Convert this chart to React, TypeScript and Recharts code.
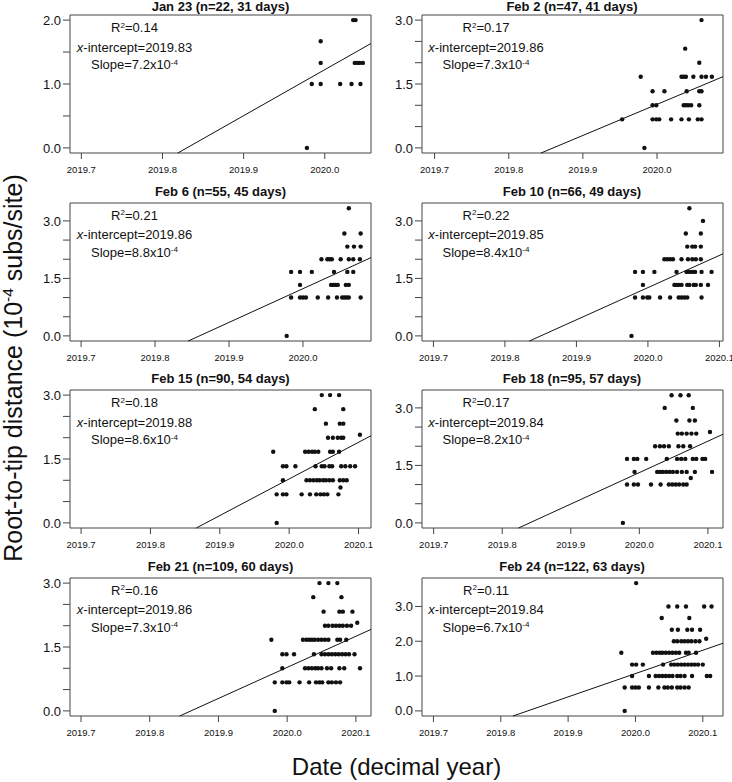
import React from "react";
import {
  ScatterChart,
  Scatter,
  XAxis,
  YAxis,
  ReferenceLine,
  ReferenceArea,
} from "recharts";

// ---- data: each row is [root-to-tip distance (1e-4 subs/site), sampling dates (decimal year)]
type Row = [number, number[]];

const jan23: Row[] = [
  [0, [2019.978]],
  [1.0, [2019.984, 2019.995, 2020.019, 2020.033, 2020.044]],
  [1.33, [2019.995, 2020.037, 2020.04, 2020.043, 2020.047]],
  [1.67, [2019.995]],
  [2.0, [2020.035, 2020.038]],
];

const feb2: Row[] = [
  [0, [2019.983]],
  [0.67, [2019.953, 2019.994, 2019.999, 2020.003, 2020.019, 2020.033, 2020.043, 2020.055, 2020.06]],
  [1.0, [2019.994, 2019.999, 2020.036, 2020.039, 2020.042, 2020.046, 2020.057]],
  [1.33, [2019.994, 2020.01, 2020.04, 2020.057, 2020.06]],
  [1.67, [2019.978, 2020.033, 2020.036, 2020.039, 2020.049, 2020.06, 2020.066, 2020.074]],
  [2.0, [2020.057]],
  [2.33, [2020.038]],
  [3.0, [2020.06]],
];

const feb6: Row[] = [
  [0, [2019.978]],
  [1.0, [2019.984, 2019.996, 2020.0, 2020.004, 2020.02, 2020.034, 2020.046, 2020.053, 2020.056, 2020.059, 2020.062, 2020.078]],
  [1.33, [2019.996, 2020.038, 2020.041, 2020.044, 2020.047, 2020.058, 2020.062]],
  [1.67, [2019.984, 2019.996, 2020.012, 2020.042, 2020.06, 2020.068]],
  [2.0, [2020.025, 2020.033, 2020.036, 2020.039, 2020.051, 2020.062, 2020.068, 2020.077]],
  [2.33, [2020.06, 2020.069, 2020.078]],
  [2.67, [2020.056, 2020.078]],
  [3.33, [2020.062]],
];

const feb10: Row[] = [
  [0, [2019.977]],
  [1.0, [2019.982, 2019.993, 2019.999, 2020.002, 2020.017, 2020.031, 2020.043, 2020.047, 2020.051, 2020.055, 2020.075]],
  [1.33, [2019.993, 2020.037, 2020.04, 2020.043, 2020.047, 2020.055, 2020.058, 2020.064, 2020.067, 2020.074, 2020.084]],
  [1.67, [2019.982, 2019.993, 2020.009, 2020.04, 2020.054, 2020.058, 2020.062, 2020.066, 2020.075, 2020.089]],
  [2.0, [2020.023, 2020.027, 2020.031, 2020.035, 2020.047, 2020.056, 2020.062, 2020.067, 2020.074]],
  [2.33, [2020.055, 2020.062, 2020.066, 2020.074]],
  [2.67, [2020.053, 2020.074]],
  [3.0, [2020.077]],
  [3.33, [2020.058]],
];

const feb15: Row[] = [
  [0, [2019.982]],
  [0.67, [2019.982, 2019.991, 2019.996, 2020.018, 2020.03, 2020.039, 2020.045, 2020.05, 2020.055, 2020.071]],
  [0.83, [2020.074]],
  [1.0, [2019.991, 2020.025, 2020.03, 2020.035, 2020.04, 2020.044, 2020.049, 2020.053, 2020.058, 2020.063, 2020.073, 2020.078, 2020.083]],
  [1.33, [2019.991, 2019.996, 2020.009, 2020.038, 2020.047, 2020.051, 2020.058, 2020.062, 2020.075, 2020.081, 2020.088, 2020.095]],
  [1.67, [2019.977, 2020.023, 2020.028, 2020.033, 2020.037, 2020.042, 2020.059, 2020.063, 2020.072]],
  [2.0, [2020.056, 2020.063, 2020.07, 2020.075, 2020.078]],
  [2.07, [2020.102]],
  [2.33, [2020.053, 2020.073, 2020.078]],
  [2.67, [2020.037, 2020.078]],
  [3.0, [2020.047, 2020.059, 2020.072]],
];

const feb18: Row[] = [
  [0, [2019.976]],
  [1.0, [2019.982, 2019.992, 2019.998, 2020.017, 2020.031, 2020.043, 2020.048, 2020.053, 2020.058, 2020.064, 2020.069]],
  [1.17, [2020.075]],
  [1.33, [2019.993, 2020.026, 2020.03, 2020.034, 2020.039, 2020.044, 2020.049, 2020.055, 2020.062, 2020.069, 2020.081, 2020.106]],
  [1.67, [2019.982, 2019.992, 2019.997, 2020.01, 2020.04, 2020.055, 2020.061, 2020.067, 2020.078, 2020.083, 2020.092, 2020.096]],
  [2.0, [2020.023, 2020.03, 2020.036, 2020.043, 2020.057, 2020.064, 2020.074]],
  [2.33, [2020.056, 2020.062, 2020.069, 2020.076, 2020.083]],
  [2.37, [2020.103]],
  [2.67, [2020.054, 2020.073, 2020.081]],
  [3.0, [2020.037, 2020.078]],
  [3.33, [2020.047, 2020.06, 2020.072]],
];

const feb21: Row[] = [
  [0, [2019.982]],
  [0.67, [2019.982, 2019.993, 2019.999, 2020.003, 2020.018, 2020.032, 2020.042, 2020.047, 2020.051, 2020.06, 2020.065, 2020.071, 2020.077]],
  [1.0, [2019.993, 2020.026, 2020.031, 2020.036, 2020.041, 2020.045, 2020.05, 2020.058, 2020.064, 2020.076, 2020.083, 2020.106]],
  [1.33, [2019.993, 2019.999, 2020.01, 2020.039, 2020.05, 2020.055, 2020.06, 2020.065, 2020.07, 2020.075, 2020.08, 2020.085, 2020.09, 2020.098]],
  [1.67, [2019.977, 2020.023, 2020.028, 2020.032, 2020.036, 2020.04, 2020.045, 2020.05, 2020.055, 2020.06, 2020.073, 2020.077, 2020.086]],
  [2.0, [2020.055, 2020.06, 2020.066, 2020.071, 2020.076, 2020.081, 2020.087, 2020.093]],
  [2.07, [2020.102]],
  [2.33, [2020.053, 2020.076, 2020.081, 2020.095]],
  [2.67, [2020.038, 2020.079]],
  [3.0, [2020.047, 2020.06, 2020.073]],
];

const feb24: Row[] = [
  [0, [2019.984]],
  [0.67, [2019.984, 2019.995, 2020.0, 2020.005, 2020.02, 2020.034, 2020.043, 2020.048, 2020.054, 2020.062, 2020.067, 2020.073, 2020.079]],
  [1.0, [2019.995, 2020.02, 2020.03, 2020.035, 2020.04, 2020.045, 2020.05, 2020.055, 2020.062, 2020.067, 2020.073, 2020.084, 2020.106, 2020.111]],
  [1.33, [2019.995, 2020.001, 2020.011, 2020.041, 2020.053, 2020.058, 2020.063, 2020.068, 2020.073, 2020.078, 2020.083, 2020.088, 2020.093, 2020.1]],
  [1.67, [2019.979, 2020.026, 2020.031, 2020.036, 2020.04, 2020.045, 2020.05, 2020.055, 2020.06, 2020.065, 2020.075, 2020.079, 2020.09]],
  [2.0, [2020.057, 2020.062, 2020.068, 2020.073, 2020.078, 2020.083, 2020.089, 2020.095]],
  [2.07, [2020.105]],
  [2.33, [2020.054, 2020.063, 2020.077, 2020.084, 2020.096]],
  [2.67, [2020.039, 2020.08]],
  [3.0, [2020.049, 2020.062, 2020.075, 2020.102, 2020.113]],
  [3.67, [2020.001]],
];

const panelRows = [jan23, feb2, feb6, feb10, feb15, feb18, feb21, feb24];

const titles = [
  "Jan 23 (n=22, 31 days)",
  "Feb 2 (n=47, 41 days)",
  "Feb 6 (n=55, 45 days)",
  "Feb 10 (n=66, 49 days)",
  "Feb 15 (n=90, 54 days)",
  "Feb 18 (n=95, 57 days)",
  "Feb 21 (n=109, 60 days)",
  "Feb 24 (n=122, 63 days)",
];
const r2Values = ["0.14", "0.17", "0.21", "0.22", "0.18", "0.17", "0.16", "0.11"];
const xIntercepts = [2019.83, 2019.86, 2019.86, 2019.85, 2019.88, 2019.84, 2019.86, 2019.84];
const slopes = [7.2, 7.3, 8.8, 8.4, 8.6, 8.2, 7.3, 6.7];

const xDomains: [number, number][] = [
  [2019.686, 2020.057],
  [2019.683, 2020.089],
  [2019.685, 2020.092],
  [2019.684, 2020.105],
  [2019.684, 2020.118],
  [2019.683, 2020.122],
  [2019.684, 2020.122],
  [2019.683, 2020.13],
];
const yDomains: [number, number][] = [
  [-0.08, 2.08],
  [-0.12, 3.12],
  [-0.133, 3.467],
  [-0.133, 3.467],
  [-0.12, 3.12],
  [-0.133, 3.467],
  [-0.12, 3.12],
  [-0.147, 3.817],
];
const xTickValues = [2019.7, 2019.8, 2019.9, 2020.0, 2020.1];
const halfSteps3 = [0, 0.5, 1, 1.5, 2, 2.5, 3];
const yTickSets = [
  [0, 0.5, 1, 1.5, 2],
  halfSteps3, halfSteps3, halfSteps3, halfSteps3, halfSteps3, halfSteps3,
  [0, 1, 2, 3],
];
const yLabelSets = [
  [0, 1, 2],
  [0, 1.5, 3], [0, 1.5, 3], [0, 1.5, 3], [0, 1.5, 3], [0, 1.5, 3], [0, 1.5, 3],
  [0, 1, 2, 3],
];

// ---- layout
const ROW_TOPS = [15, 202.5, 390, 577.5];
const COL_LEFTS = [70, 421.5];
const BOX_W = 301;
const BOX_H = 138;
const Y_AXIS_W = 55;
const X_AXIS_H = 35;
const TOP_M = 15;
const RIGHT_M = 25; // room for a "2020.1" label at the right edge
const FRAME = "#444";

const Dot = (p: any) => <circle cx={p.cx} cy={p.cy} r={2.2} fill="#111" />;

function Sup({ children }: { children: React.ReactNode }) {
  return (
    <span style={{ fontSize: "0.62em", position: "relative", top: "-0.55em" }}>{children}</span>
  );
}

function Panel({ i }: { i: number }) {
  const left = COL_LEFTS[i % 2];
  const top = ROW_TOPS[Math.floor(i / 2)];
  const [xmin, xmax] = xDomains[i];
  const [ymin, ymax] = yDomains[i];
  const pts = panelRows[i].flatMap(([y, xs]) => xs.map((x) => ({ x, y })));

  // regression line, clipped to the plot box
  const m = slopes[i];
  const b = xIntercepts[i];
  const xs0 = Math.max(xmin, b + ymin / m);
  let xs1 = xmax;
  if (m * (xs1 - b) > ymax) xs1 = b + ymax / m;

  const labels = yLabelSets[i];
  const xt = xTickValues.filter((t) => t >= xmin && t <= xmax);

  return (
    <>
      <div style={{ position: "absolute", left: left - Y_AXIS_W, top: top - TOP_M }}>
        <ScatterChart
          width={Y_AXIS_W + BOX_W + RIGHT_M}
          height={TOP_M + BOX_H + X_AXIS_H}
          margin={{ top: TOP_M, right: RIGHT_M, bottom: 0, left: 0 }}
        >
          <XAxis
            type="number"
            dataKey="x"
            domain={[xmin, xmax]}
            ticks={xt}
            interval={0}
            allowDataOverflow
            axisLine={false}
            tickLine={{ stroke: FRAME }}
            tickSize={6}
            tickMargin={7}
            height={X_AXIS_H}
            tick={{ fontSize: 9.5, fill: "#111" }}
            tickFormatter={(v: number) => v.toFixed(1)}
          />
          <YAxis
            type="number"
            dataKey="y"
            domain={[ymin, ymax]}
            ticks={yTickSets[i]}
            interval={0}
            allowDataOverflow
            axisLine={false}
            tickLine={{ stroke: FRAME }}
            tickSize={7}
            tickMargin={2}
            width={Y_AXIS_W}
            tick={{ fontSize: 13, fill: "#111" }}
            tickFormatter={(v: number) => (labels.includes(v) ? v.toFixed(1) : "")}
          />
          <ReferenceArea
            x1={xmin}
            x2={xmax}
            y1={ymin}
            y2={ymax}
            fill="none"
            stroke={FRAME}
            strokeWidth={1}
            ifOverflow="visible"
          />
          <ReferenceLine
            segment={[
              { x: xs0, y: m * (xs0 - b) },
              { x: xs1, y: m * (xs1 - b) },
            ]}
            stroke="#111"
            strokeWidth={1}
            ifOverflow="visible"
          />
          <Scatter data={pts} shape={Dot} isAnimationActive={false} />
        </ScatterChart>
      </div>
      <div
        style={{
          position: "absolute",
          left,
          top: Math.max(top - 19, -1),
          width: BOX_W,
          textAlign: "center",
          fontWeight: "bold",
          fontSize: 13,
          lineHeight: "16px",
          whiteSpace: "nowrap",
        }}
      >
        {titles[i]}
      </div>
      <div
        style={{
          position: "absolute",
          left: left - 10.5,
          top: top + 4,
          width: 150,
          textAlign: "center",
          fontSize: 13,
          lineHeight: "17.5px",
          whiteSpace: "nowrap",
          color: "#111",
        }}
      >
        <div>
          R<Sup>2</Sup>={r2Values[i]}
        </div>
        <div>
          <i>x</i>-intercept={xIntercepts[i].toFixed(2)}
        </div>
        <div>
          Slope={slopes[i].toFixed(1)}x10<Sup>-4</Sup>
        </div>
      </div>
    </>
  );
}

export default function App() {
  return (
    <div
      style={{
        position: "absolute",
        left: 0,
        top: 0,
        width: 732,
        height: 782,
        overflow: "hidden",
        background: "#fff",
        fontFamily: "'Liberation Sans', Arial, Helvetica, sans-serif",
        color: "#111",
      }}
    >
      {titles.map((_, i) => (
        <Panel key={i} i={i} />
      ))}
      <div
        style={{
          position: "absolute",
          left: 15,
          top: 368,
          transform: "translate(-50%, -50%) rotate(-90deg)",
          fontSize: 25,
          lineHeight: "30px",
          whiteSpace: "nowrap",
          fontWeight: 300,
        }}
      >
        Root-to-tip distance (10<Sup>-4</Sup> subs/site)
      </div>
      <div
        style={{
          position: "absolute",
          left: 0,
          width: 793,
          top: 755,
          textAlign: "center",
          fontSize: 24,
          lineHeight: "24px",
          whiteSpace: "nowrap",
          fontWeight: 300,
        }}
      >
        Date (decimal year)
      </div>
    </div>
  );
}
